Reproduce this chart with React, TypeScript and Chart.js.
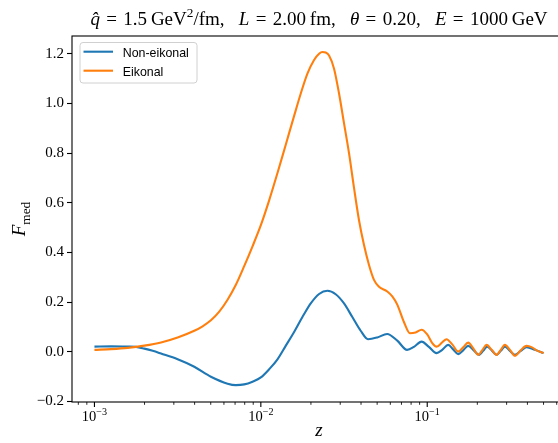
import React, { useEffect, useRef } from "react";
import { Chart, registerables } from "chart.js";

Chart.register(...registerables);

// ---- data ----
const zNonEikonal = [
  0.001, 0.001259, 0.001585, 0.001778, 0.001995, 0.002239, 0.002512, 0.003162,
  0.003981, 0.005012, 0.00631, 0.007079, 0.007943, 0.008913, 0.01, 0.01122,
  0.01259, 0.01413, 0.01585, 0.01778, 0.01995, 0.02239, 0.02512, 0.02818,
  0.03162, 0.03548, 0.03981, 0.04406, 0.05012, 0.05741, 0.06607, 0.07568,
  0.08318, 0.09247, 0.1023, 0.1138, 0.123, 0.1337, 0.1432, 0.1535, 0.1644,
  0.1762, 0.1905, 0.2051, 0.2168, 0.2291, 0.2455, 0.2612, 0.2767, 0.2931,
  0.3141, 0.3365, 0.3648, 0.3954, 0.4436, 0.5,
];
const fNonEikonal = [
  0.021, 0.022, 0.021, 0.02, 0.013, 0.004, -0.007, -0.03,
  -0.06, -0.1, -0.128, -0.134, -0.131, -0.12, -0.103, -0.07,
  -0.03, 0.025, 0.08, 0.14, 0.195, 0.233, 0.246, 0.232,
  0.195, 0.14, 0.085, 0.051, 0.058, 0.072, 0.045, 0.008,
  0.02, 0.041, 0.02, -0.005, 0.008, 0.028, 0.01, -0.009, 0.006,
  0.024, 0.006, -0.012, 0.004, 0.021, 0.004, -0.012, 0.004, 0.021,
  0.004, -0.012, 0.004, 0.019, 0.008, -0.005,
];
const zEikonal = [
  0.001, 0.001259, 0.001585, 0.001995, 0.002512, 0.003162, 0.003981, 0.004467,
  0.005012, 0.005623, 0.00631, 0.007079, 0.007943, 0.008913, 0.01, 0.01122,
  0.01259, 0.01413, 0.01585, 0.01738, 0.01905, 0.02089, 0.02239, 0.02344,
  0.02455, 0.0257, 0.02754, 0.02951, 0.03162, 0.03388, 0.03631, 0.0389,
  0.04169, 0.04467, 0.04786, 0.05129, 0.05754, 0.06166, 0.06607, 0.07244,
  0.0787, 0.08511, 0.09247, 0.1, 0.1072, 0.1138, 0.123, 0.1306, 0.1413,
  0.1535, 0.1644, 0.1762, 0.1888, 0.2023, 0.2148, 0.2275, 0.2438, 0.2612,
  0.2767, 0.2931, 0.3141, 0.3365, 0.3631, 0.3954, 0.4266, 0.4571, 0.5,
];
const fEikonal = [
  0.008, 0.011, 0.016, 0.025, 0.038, 0.058, 0.085, 0.103,
  0.127, 0.162, 0.21, 0.27, 0.345, 0.425, 0.51, 0.61,
  0.72, 0.835, 0.95, 1.04, 1.12, 1.175, 1.2, 1.207,
  1.205, 1.193, 1.14, 1.04, 0.92, 0.8, 0.66, 0.53,
  0.43, 0.35, 0.29, 0.262, 0.243, 0.223, 0.19, 0.12,
  0.075, 0.078, 0.089, 0.07, 0.035, 0.021, 0.038, 0.051, 0.03,
  0.001, 0.018, 0.037, 0.015, -0.012, 0.008, 0.028, 0.008, -0.012,
  0.008, 0.028, 0.008, -0.016, 0.005, 0.024, 0.018, 0.005, -0.005,
];
const seriesLabels = ["Non-eikonal", "Eikonal"];
const seriesColors = ["#1f77b4", "#ff7f0e"];

const yTickValues = [-0.2, 0.0, 0.2, 0.4, 0.6, 0.8, 1.0, 1.2];
const xMajorTicks = [0.001, 0.01, 0.1];
const xMajorExponents = ["\u22123", "\u22122", "\u22121"];
const xMinorTicks = [
  0.0008, 0.0009, 0.002, 0.003, 0.004, 0.005, 0.006, 0.007, 0.008, 0.009,
  0.02, 0.03, 0.04, 0.05, 0.06, 0.07, 0.08, 0.09, 0.2, 0.3, 0.4, 0.5, 0.6,
];
const X_MIN = 0.000733;
const X_MAX = 0.6823;
const Y_MIN = -0.2019;
const Y_MAX = 1.2716;

const SERIF = "'Liberation Serif', 'DejaVu Serif', serif";
const SANS = "'Liberation Sans', Arial, sans-serif";

type Seg = { t: string; it?: boolean; sup?: boolean; sub?: boolean };

const EQ = "\u200a\u2005=\u2005\u200a";
const titleSegs: Seg[] = [
  { t: "q\u0302", it: true },
  { t: EQ + "1.5\u2009GeV" },
  { t: "2", sup: true },
  { t: "/fm,\u2002 " },
  { t: "L", it: true },
  { t: EQ + "2.00\u2009fm,\u2002 " },
  { t: "\u03b8", it: true },
  { t: EQ + "0.20,\u2002 " },
  { t: "E", it: true },
  { t: EQ + "1000\u2009GeV" },
];

function segFont(s: Seg, size: number) {
  const sz = s.sup || s.sub ? size * 0.7 : size;
  return `${s.it ? "italic " : ""}${sz}px ${SERIF}`;
}
function richWidth(ctx: CanvasRenderingContext2D, segs: Seg[], size: number) {
  let w = 0;
  for (const s of segs) {
    ctx.font = segFont(s, size);
    w += ctx.measureText(s.t).width;
  }
  return w;
}
function drawRich(
  ctx: CanvasRenderingContext2D,
  segs: Seg[],
  cx: number,
  y: number,
  size: number,
  supRaise = 0.4
) {
  const w = richWidth(ctx, segs, size);
  let x = cx - w / 2;
  ctx.textAlign = "left";
  ctx.textBaseline = "alphabetic";
  for (const s of segs) {
    ctx.font = segFont(s, size);
    const dy = s.sup ? -size * supRaise : s.sub ? size * 0.25 : 0;
    ctx.fillText(s.t, x, y + dy);
    x += ctx.measureText(s.t).width;
  }
}

const decorPlugin = {
  id: "decor",
  afterDraw(chart: any) {
    const ctx: CanvasRenderingContext2D = chart.ctx;
    const { left, right, top, bottom } = chart.chartArea;
    const xs = chart.scales.x;
    ctx.save();
    // frame
    ctx.strokeStyle = "#000";
    ctx.lineWidth = 1.1;
    ctx.strokeRect(left, top, right - left, bottom - top);
    // x ticks
    ctx.lineWidth = 1.1;
    for (const v of xMajorTicks) {
      const px = xs.getPixelForValue(v);
      ctx.beginPath();
      ctx.moveTo(px, bottom);
      ctx.lineTo(px, bottom + 4.9);
      ctx.stroke();
    }
    ctx.lineWidth = 0.85;
    for (const v of xMinorTicks) {
      const px = xs.getPixelForValue(v);
      if (px < left || px > right) continue;
      ctx.beginPath();
      ctx.moveTo(px, bottom);
      ctx.lineTo(px, bottom + 2.8);
      ctx.stroke();
    }
    // x tick labels
    ctx.fillStyle = "#000";
    xMajorTicks.forEach((v, i) => {
      const px = xs.getPixelForValue(v);
      drawRich(ctx, [{ t: "10" }, { t: xMajorExponents[i], sup: true }], px, bottom + 18.5, 14.5, 0.36);
    });
    // x label
    drawRich(ctx, [{ t: "z", it: true }], (left + right) / 2, 436, 19);
    // y label (rotated)
    ctx.save();
    ctx.translate(25, (top + bottom) / 2);
    ctx.rotate(-Math.PI / 2);
    drawRich(ctx, [{ t: "F", it: true }, { t: "med", sub: true }], 0, 0, 19);
    ctx.restore();
    // title
    drawRich(ctx, titleSegs, (left + right) / 2, 25, 19);
    // legend
    const bx = 80, by = 42.5, bw = 117, bh = 40.5, r = 3;
    ctx.beginPath();
    ctx.moveTo(bx + r, by);
    ctx.lineTo(bx + bw - r, by);
    ctx.quadraticCurveTo(bx + bw, by, bx + bw, by + r);
    ctx.lineTo(bx + bw, by + bh - r);
    ctx.quadraticCurveTo(bx + bw, by + bh, bx + bw - r, by + bh);
    ctx.lineTo(bx + r, by + bh);
    ctx.quadraticCurveTo(bx, by + bh, bx, by + bh - r);
    ctx.lineTo(bx, by + r);
    ctx.quadraticCurveTo(bx, by, bx + r, by);
    ctx.closePath();
    ctx.fillStyle = "rgba(255,255,255,0.8)";
    ctx.fill();
    ctx.strokeStyle = "#d0d0d0";
    ctx.lineWidth = 1;
    ctx.stroke();
    seriesLabels.forEach((lab, i) => {
      const ly = 51.7 + i * 19;
      ctx.strokeStyle = seriesColors[i];
      ctx.lineWidth = 2.1;
      ctx.beginPath();
      ctx.moveTo(83.5, ly);
      ctx.lineTo(113, ly);
      ctx.stroke();
      ctx.fillStyle = "#000";
      ctx.font = `12.4px ${SANS}`;
      ctx.textAlign = "left";
      ctx.textBaseline = "alphabetic";
      ctx.fillText(lab, 122.7, ly + 5.6);
    });
    ctx.restore();
  },
};

export default function App() {
  const ref = useRef<HTMLCanvasElement | null>(null);
  useEffect(() => {
    if (!ref.current) return;
    const chart = new Chart(ref.current, {
      type: "line",
      data: {
        datasets: [
          {
            label: seriesLabels[0],
            data: zNonEikonal.map((z, i) => ({ x: z, y: fNonEikonal[i] })),
            borderColor: seriesColors[0],
            backgroundColor: seriesColors[0],
            borderWidth: 2.1,
            pointRadius: 0,
            cubicInterpolationMode: "monotone",
            fill: false,
            order: 1,
          },
          {
            label: seriesLabels[1],
            data: zEikonal.map((z, i) => ({ x: z, y: fEikonal[i] })),
            borderColor: seriesColors[1],
            backgroundColor: seriesColors[1],
            borderWidth: 2.1,
            pointRadius: 0,
            cubicInterpolationMode: "monotone",
            fill: false,
            order: 0,
          },
        ],
      },
      options: {
        animation: false,
        responsive: false,
        devicePixelRatio: 1,
        layout: { padding: { left: 0, right: 14, top: 36, bottom: 0 } },
        plugins: {
          legend: { display: false },
          title: { display: false },
          tooltip: { enabled: false },
        },
        scales: {
          x: {
            type: "logarithmic",
            min: X_MIN,
            max: X_MAX,
            ticks: { display: false },
            grid: { display: false },
            border: { display: false },
            afterFit: (s: any) => {
              s.height = 41;
            },
          },
          y: {
            type: "linear",
            min: Y_MIN,
            max: Y_MAX,
            afterBuildTicks: (s: any) => {
              s.ticks = yTickValues.map((v) => ({ value: v }));
            },
            ticks: {
              padding: 3,
              color: "#000",
              font: { family: SERIF, size: 15 },
              callback: (v: any) => {
                const n = Number(v);
                return (n < -1e-9 ? "\u2212" : "") + Math.abs(n).toFixed(1);
              },
            },
            grid: {
              display: true,
              drawOnChartArea: false,
              drawTicks: true,
              tickLength: 5,
              tickWidth: 1.1,
              tickColor: "#000",
            },
            border: { display: false },
            afterFit: (s: any) => {
              s.width = 72;
            },
          },
        },
      } as any,
      plugins: [decorPlugin],
    });
    return () => chart.destroy();
  }, []);
  return (
    <div
      style={{
        position: "fixed",
        left: 0,
        top: 0,
        width: 558,
        height: 443,
        overflow: "hidden",
        background: "#fff",
      }}
    >
      <canvas ref={ref} width={580} height={443} style={{ display: "block", width: 580, height: 443 }} />
    </div>
  );
}
